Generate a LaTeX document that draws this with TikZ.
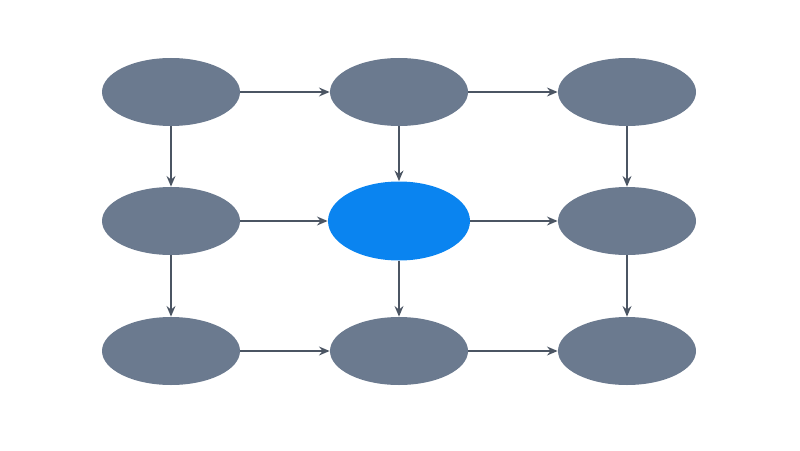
\documentclass[tikz,border=0pt]{standalone}
\usepackage{tikz}
\usetikzlibrary{arrows.meta,shapes.geometric}
\definecolor{slate}{HTML}{6B7A8F}
\definecolor{focus}{HTML}{0A84F0}
\definecolor{wire}{HTML}{4B5563}

\begin{document}
\begin{tikzpicture}
\useasboundingbox (0,0) rectangle (16,9);
\begin{scope}[every node/.style={ellipse,fill=slate,inner sep=0pt,minimum width=2.76cm,minimum height=1.36cm}]
    \node (A) at (3.42,7.16) {};
    \node (B) at (7.98,7.16) {};
    \node (C) at (12.54,7.16) {};
    \node (D) at (3.42,4.58) {};
    \node[fill=focus,minimum width=2.84cm,minimum height=1.58cm] (E) at (7.98,4.58) {};
    \node (F) at (12.54,4.58) {};
    \node (G) at (3.42,1.98) {};
    \node (H) at (7.98,1.98) {};
    \node (I) at (12.54,1.98) {};
\end{scope}

\begin{scope}[>={Stealth[wire,length=6pt,width=5pt]},
              every edge/.style={draw=wire,line width=1.1pt}]
    \path [->] (A) edge (B);
    \path [->] (B) edge (C);
    \path [->] (D) edge (E);
    \path [->] (E) edge (F);
    \path [->] (G) edge (H);
    \path [->] (H) edge (I);
    \path [->] (A) edge (D);
    \path [->] (D) edge (G);
    \path [->] (B) edge (E);
    \path [->] (E) edge (H);
    \path [->] (C) edge (F);
    \path [->] (F) edge (I);
\end{scope}
\end{tikzpicture}
\end{document}
